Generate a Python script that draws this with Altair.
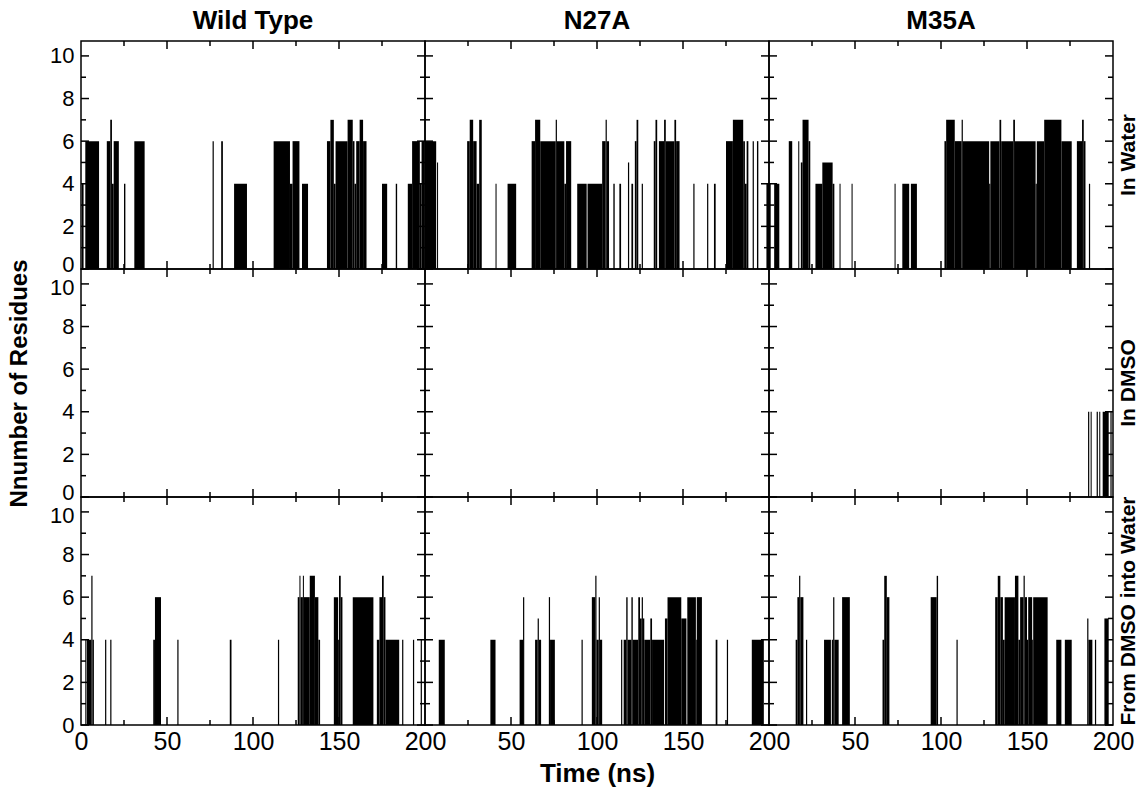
import altair as alt
import pandas as pd

COLUMNS = ["Wild Type", "N27A", "M35A"]
ROWS = ["In Water", "In DMSO", "From DMSO into Water"]

# segments: (start ns, end ns, number of residues)
WT_WATER = [(0.5,1.5,4),(2.5,10.5,6),(15,17,6),(17,18,7),(18,19,4),(19,22,6),(25,25.8,4),(31,37,6),
            (76.5,77.2,6),(81.5,82.5,6),(89,96.5,4),(112,121.5,6),(121.5,123,4),(123,127,6),(128.5,132,4),
            (143,145,6),(145,147,7),(147,148,4),(148,155,6),(155,158,7),(158,159,6),(159,160,4),(160,162,6),
            (162,164,7),(164,166,6),(175,178,4),(183,183.8,4),(190,192.5,4),(192.5,197,6),(197,198,4),(198,199.5,6)]
N27A_WATER = [(0,6.5,6),(7,7.6,5),(24.5,26,6),(26,28,7),(28,30,6),(30,31.5,4),(31.5,33,7),(41,41.6,4),
              (48,53,4),(62,64,6),(64,67,7),(67,76,6),(76,76.7,7),(76.7,81,6),(81,82,4),(82,85,6),(88.5,94,4),
              (94.5,103,4),(103,105,6),(105,105.7,7),(105.7,107,6),(109.5,110.3,4),(113,114,4),(118,118.7,5),
              (120,121,4),(122,123,6),(123,124,7),(126,126.7,4),(133,134,6),(134,135,7),(136,139,6),(139,140,7),
              (140,145,6),(145,146,7),(146,148,6),(156,156.7,4),(164,164.7,4),(168,169,4),(175,179,6),(179,185,7),
              (185,186,6),(186,187,4),(187,188,6),(190.5,191.2,6),(193,193.8,6),(198.5,200,4)]
M35A_WATER = [(0,1,4),(3,6,4),(11.5,13.5,6),(17,17.6,6),(18.5,19.5,5),(19.5,23,7),(23,24,6),(27,31,4),
              (31,37,5),(37,38,4),(41,41.6,4),(48,48.6,4),(73,73.6,4),(77.5,81.5,4),(82.5,86,4),(102,103,6),
              (103,108,7),(108,112,6),(112,112.7,7),(112.7,128,6),(128,128.7,4),(128.7,134,6),(134,135,7),
              (135,142,6),(142,143,7),(143,155,6),(155,155.7,4),(155.7,160,6),(160,170,7),(170,176,6),
              (179,182,6),(182,183,7),(183,184,6),(186,186.7,4)]
WT_DMSO = []
N27A_DMSO = []
M35A_DMSO = [(185.5,186.2,4),(187,187.6,4),(190.5,191.2,4),(192,192.6,4),(194,197.5,4),(198.5,199.2,4)]
WT_D2W = [(2.5,3.2,4),(3.5,6,4),(6,6.7,7),(6.7,7.5,4),(14,14.7,4),(17,17.7,4),(42,43,4),(43,46.5,6),
          (56,56.7,4),(86.5,87.5,4),(114.5,115.2,4),(126,127,6),(127,127.6,7),(127.6,129,6),(129,129.6,7),
          (129.6,133,6),(133,136,7),(136,138,6),(138,139,4),(147,149.5,6),(149.5,150,4),(150,151,7),
          (151,152,6),(158,170,6),(172,173.5,4),(173.5,175,6),(175,176,7),(176,177,6),(177,185,4),
          (186.7,187.4,4),(193,193.7,4),(197.5,198.2,4)]
N27A_D2W = [(8,11.5,4),(38,41,4),(55,57,4),(57,57.7,6),(64,65.5,4),(65.5,66.2,5),(66.2,67.5,4),(72,72.7,6),
            (72.7,75.5,4),(91,91.7,4),(97,99,6),(99,99.7,7),(99.7,101,4),(101,101.7,6),(101.7,103,4),
            (114,114.7,4),(115.5,117,4),(117,117.8,6),(117.8,120,4),(120,120.8,6),(120.8,124,4),(124,125,6),
            (125,126,5),(126,126.7,6),(126.7,127.5,5),(127.5,131,4),(131,132,5),(132,139,4),(139.5,141,5),
            (141,149,6),(149,152,5),(152.5,157.5,6),(157.5,158,4),(158,161,6),(169,170,4),(175.5,176.2,4),
            (190,197,4)]
M35A_D2W = [(15.5,16.5,4),(16.5,17.5,6),(17.5,18.2,7),(18.2,20,6),(21.5,22.2,4),(32,36,4),(36.5,37.3,4),
            (37.3,38,6),(38,40.5,4),(42.5,47,6),(66,67,4),(67,68.5,7),(68.5,70,6),(94,97.5,6),(97.5,98.3,7),
            (109,109.7,4),(131.5,133,6),(133,134.5,7),(134.5,136,6),(136,137,4),(137,143,6),(143,145,7),
            (145,146,4),(146,148,6),(148,148.7,7),(148.7,150,6),(150,150.7,4),(150.7,153,6),(153,153.6,4),
            (153.6,162,6),(167,170,4),(172,176,4),(185,185.7,5),(185.7,188,4),(189.5,190.2,4),(195,197.5,5)]

PANELS = [[WT_WATER, N27A_WATER, M35A_WATER],
          [WT_DMSO, N27A_DMSO, M35A_DMSO],
          [WT_D2W, N27A_D2W, M35A_D2W]]

Y_MAJOR = [0, 2, 4, 6, 8, 10]
Y_MINOR = [1, 3, 5, 7, 9]
X_MAJOR = [50, 100, 150]
X_MINOR = [25, 75, 125, 175]

W, H = 344, 228
FONT = "Liberation Sans Narrow, Liberation Sans, Arial, sans-serif"
BFONT = "Liberation Sans, Arial, sans-serif"
xs = alt.Scale(domain=[0, 200], nice=False, zero=False)
ys = alt.Scale(domain=[0, 10.7], nice=False)

rows = []
for r, rname in enumerate(ROWS):
    for c, cname in enumerate(COLUMNS):
        rows += [{"panel": f"{r}-{c}", "start": s, "end": e, "value": v} for (s, e, v) in PANELS[r][c]]
df = pd.DataFrame(rows, columns=["panel", "start", "end", "value"])

ymaj = pd.DataFrame({"v": Y_MAJOR})
ymin = pd.DataFrame({"v": Y_MINOR})
xmaj = pd.DataFrame({"t": X_MAJOR})
xmin = pd.DataFrame({"t": X_MINOR})

def ticks_y(data, L, yaxis):
    left = alt.Chart(data).mark_rule(color="black", strokeWidth=1.5).encode(
        y=alt.Y("v:Q", scale=ys, axis=yaxis), x=alt.value(0), x2=alt.value(L))
    right = alt.Chart(data).mark_rule(color="black", strokeWidth=1.5).encode(
        y=alt.Y("v:Q", scale=ys, axis=yaxis), x=alt.value(W - L), x2=alt.value(W))
    return [left, right]

def ticks_x(data, L, xaxis):
    top = alt.Chart(data).mark_rule(color="black", strokeWidth=1.5).encode(
        x=alt.X("t:Q", scale=xs, axis=xaxis), y=alt.value(0), y2=alt.value(L))
    bot = alt.Chart(data).mark_rule(color="black", strokeWidth=1.5).encode(
        x=alt.X("t:Q", scale=xs, axis=xaxis), y=alt.value(H - L), y2=alt.value(H))
    return [top, bot]

charts = []
for r, rname in enumerate(ROWS):
    for c, cname in enumerate(COLUMNS):
        if r == 2:
            xvals = [0, 50, 100, 150, 200] if c == 0 else [50, 100, 150, 200]
            xaxis = alt.Axis(values=xvals, ticks=False, domain=False, grid=False,
                             labelFont=FONT, labelFontSize=25, labelColor="black", labelPadding=4,
                             labelFlush=False,
                             title="Time (ns)" if c == 1 else None, titleFont=FONT, titleFontSize=26,
                             titleFontWeight="bold", titleColor="black", titlePadding=6)
        else:
            xaxis = None
        if c == 0:
            zero_off = -5 if r < 2 else 0
            ten_off = 4 if r > 0 else 0
            yaxis = alt.Axis(values=Y_MAJOR, ticks=False, domain=False, grid=False,
                             labelFont=FONT, labelFontSize=22, labelColor="black", labelPadding=7,
                             labelFlush=False,
                             labelOffset={"expr": f"datum.value == 0 ? {zero_off} : (datum.value == 10 ? {ten_off} : 0)"},
                             title="Nnumber of Residues" if r == 1 else None, titleFont=BFONT,
                             titleFontSize=24, titleFontWeight="bold", titleColor="black", titlePadding=18)
        else:
            yaxis = None
        bars = alt.Chart(df).transform_filter(alt.datum.panel == f"{r}-{c}").mark_rect(
            color="black", strokeWidth=0).encode(
            x=alt.X("start:Q", scale=xs, axis=xaxis),
            x2="end:Q",
            y=alt.Y("value:Q", scale=ys, axis=yaxis),
            y2=alt.datum(0),
        )
        layers = ([bars] + ticks_y(ymaj, 8, yaxis) + ticks_y(ymin, 5, yaxis)
                  + ticks_x(xmaj, 8, xaxis) + ticks_x(xmin, 5, xaxis))
        if c == 2:
            lab = alt.Chart(pd.DataFrame({"label": [rname]})).mark_text(
                angle=270, font=BFONT, fontSize=21, fontWeight="bold", color="black",
                baseline="middle", align="center").encode(
                text="label:N", x=alt.value(W + 16), y=alt.value(H / 2))
            layers.append(lab)
        props = dict(width=W, height=H)
        if r == 0:
            props["title"] = alt.TitleParams(cname, font=FONT, fontSize=26, fontWeight="bold",
                                             color="black", offset=6)
        charts.append(alt.layer(*layers).properties(**props))

chart = alt.concat(*charts, columns=3, spacing=0, bounds="flush").configure_view(
    stroke="black", strokeWidth=1.5).properties(
    background="white", padding={"left": 6, "top": 7, "right": 3, "bottom": 3})

chart.save("out.html", embed_options={"renderer": "svg", "actions": False})
